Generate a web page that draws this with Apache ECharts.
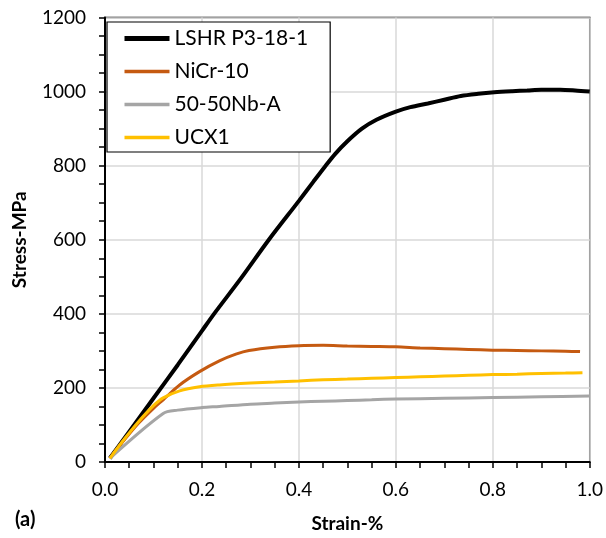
<!DOCTYPE html>
<html>
<head>
<meta charset="utf-8">
<script src="https://cdn.jsdelivr.net/npm/echarts@6/dist/echarts.min.js"></script>
<style>html,body{margin:0;padding:0;background:#fff}#c{width:606px;height:538px}</style>
</head>
<body>
<div id="c"></div>
<script>
// Data (strain %, stress MPa)
const seriesNames = ['LSHR P3-18-1', 'NiCr-10', '50-50Nb-A', 'UCX1'];
const lshr = [[0.01,10],[0.05,82],[0.1,172],[0.15,262],[0.2,354],[0.225,400],[0.28,495],[0.338,600],[0.4,705],[0.43,757],[0.454,798],[0.475,832],[0.5,866],[0.53,900],[0.56,924],[0.6,946],[0.63,958],[0.666,968],[0.7,978],[0.734,988],[0.77,994],[0.803,998],[0.84,1001],[0.871,1003],[0.9,1005],[0.939,1005],[0.97,1003],[1.0,1000]];
const nicr = [[0.01,10],[0.04,60],[0.07,106],[0.1,145],[0.12,168],[0.154,208],[0.195,244],[0.236,273],[0.27,291],[0.297,301],[0.35,310],[0.4,314],[0.45,315],[0.5,313],[0.55,312],[0.6,311],[0.65,308],[0.7,306],[0.75,304],[0.8,302],[0.85,301],[0.9,300],[0.95,299],[0.98,298]];
const nb = [[0.01,10],[0.12,131],[0.15,140],[0.2,147],[0.236,150],[0.3,156],[0.35,159],[0.4,162],[0.45,164],[0.5,166],[0.55,168],[0.6,170],[0.7,172],[0.8,174],[0.9,176],[1.0,178]];
const ucx = [[0.01,10],[0.04,62],[0.07,110],[0.1,152],[0.12,173],[0.154,192],[0.195,203],[0.236,208],[0.3,213],[0.35,216],[0.4,219],[0.45,222],[0.5,224],[0.55,226],[0.6,228],[0.65,230],[0.7,232],[0.75,234],[0.8,236],[0.85,237],[0.9,239],[0.95,240],[0.985,241]];
const colors = ['#000000', '#C55A11', '#A5A5A5', '#FFC000'];
const widths = [4, 3, 3, 3];
const legendWidths = [5, 3.5, 3.5, 3.5];
const xTicks = [0, 0.2, 0.4, 0.6, 0.8, 1.0];
const yTicks = [0, 200, 400, 600, 800, 1000, 1200];

const FONT = 'Lato';
const chart = echarts.init(document.getElementById('c'), null, {renderer: 'canvas'});
const datasets = [lshr, nicr, nb, ucx];
chart.setOption({
  animation: false,
  grid: {left: 105, right: 13, top: 17.5, bottom: 76, show: true, borderColor: '#000', borderWidth: 1.5, backgroundColor: 'transparent'},
  legend: {
    orient: 'vertical', left: 107, top: 22,
    backgroundColor: '#fff', borderColor: '#000', borderWidth: 1.2,
    padding: [6, 22, 4, 15],
    itemWidth: 45, itemHeight: 14, itemGap: 12,
    itemStyle: {opacity: 0},
    textStyle: {fontFamily: FONT, fontSize: 21, color: '#000', lineHeight: 20},
    data: seriesNames.map((n, i) => ({name: n, itemStyle: {opacity: 0}, lineStyle: {width: legendWidths[i], color: colors[i]}}))
  },
  xAxis: {
    type: 'value', min: xTicks[0], max: xTicks[xTicks.length - 1], interval: 0.2,
    name: 'Strain-%', nameLocation: 'middle', nameGap: 52,
    nameTextStyle: {fontFamily: FONT, fontSize: 19, fontWeight: 'bold', color: '#000'},
    axisLine: {show: true, lineStyle: {color: '#000', width: 2}},
    axisTick: {show: true, inside: false, length: 6, lineStyle: {color: '#000', width: 1.5}},
    minorTick: {show: true, splitNumber: 4, length: 6, lineStyle: {color: '#000', width: 1.5}},
    axisLabel: {fontFamily: FONT, fontSize: 19, color: '#000', margin: 18, formatter: v => v.toFixed(1)},
    splitLine: {show: true, lineStyle: {color: '#d9d9d9', width: 1.5}}
  },
  yAxis: {
    type: 'value', min: yTicks[0], max: yTicks[yTicks.length - 1], interval: 200,
    name: 'Stress-MPa', nameLocation: 'middle', nameGap: 76,
    nameTextStyle: {fontFamily: FONT, fontSize: 19, fontWeight: 'bold', color: '#000'},
    axisLine: {show: true, lineStyle: {color: '#000', width: 2}},
    axisTick: {show: true, inside: false, length: 6, lineStyle: {color: '#000', width: 1.5}},
    minorTick: {show: true, splitNumber: 4, length: 6, lineStyle: {color: '#000', width: 1.5}},
    axisLabel: {fontFamily: FONT, fontSize: 19, color: '#000', margin: 19, formatter: v => String(v)},
    splitLine: {show: true, lineStyle: {color: '#d9d9d9', width: 1.5}}
  },
  graphic: [{type: 'text', left: 15, top: 510, style: {text: '(a)', fontFamily: FONT, fontSize: 20, fontWeight: 'bold', fill: '#000'}}],
  series: datasets.map((d, i) => ({
    name: seriesNames[i], type: 'line', data: d, showSymbol: false, symbol: 'none',
    smooth: 0.3, lineStyle: {color: colors[i], width: widths[i]}, itemStyle: {color: colors[i]}, z: 2 + i
  }))
});
</script>
</body>
</html>
